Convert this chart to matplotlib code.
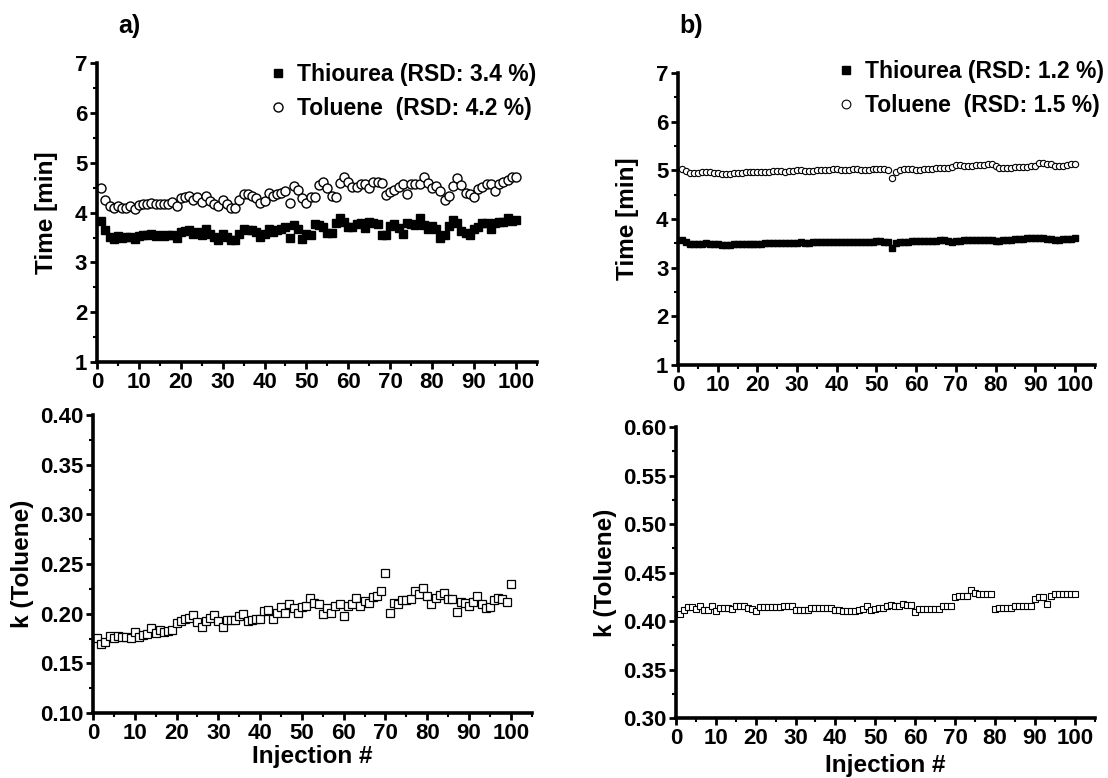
import numpy as np
import matplotlib
matplotlib.use('Agg')
import matplotlib.pyplot as plt
from matplotlib.ticker import MultipleLocator, FormatStrFormatter

plt.rcParams['font.family'] = ['Liberation Sans', 'DejaVu Sans']
plt.rcParams['font.weight'] = 'bold'

injection = np.arange(1, 101)

# a) retention times [min]
thiourea_a = [3.84, 3.65, 3.52, 3.48, 3.54, 3.50, 3.52, 3.52, 3.48, 3.53,
              3.55, 3.56, 3.57, 3.54, 3.55, 3.54, 3.55, 3.56, 3.50, 3.62,
              3.64, 3.65, 3.58, 3.62, 3.56, 3.68, 3.58, 3.52, 3.45, 3.58,
              3.52, 3.45, 3.45, 3.58, 3.68, 3.65, 3.65, 3.62, 3.52, 3.58,
              3.68, 3.62, 3.66, 3.68, 3.72, 3.50, 3.75, 3.68, 3.48, 3.58,
              3.56, 3.77, 3.75, 3.72, 3.60, 3.60, 3.80, 3.90, 3.82, 3.72,
              3.72, 3.77, 3.79, 3.70, 3.82, 3.79, 3.78, 3.56, 3.56, 3.73,
              3.77, 3.70, 3.58, 3.79, 3.77, 3.75, 3.89, 3.75, 3.68, 3.74,
              3.68, 3.50, 3.55, 3.74, 3.85, 3.80, 3.63, 3.60, 3.55, 3.68,
              3.72, 3.79, 3.79, 3.68, 3.79, 3.82, 3.82, 3.89, 3.83, 3.85]
toluene_a = [4.49, 4.26, 4.13, 4.09, 4.14, 4.10, 4.10, 4.14, 4.07, 4.15,
             4.17, 4.17, 4.19, 4.17, 4.17, 4.17, 4.17, 4.21, 4.13, 4.29,
             4.32, 4.34, 4.26, 4.31, 4.22, 4.34, 4.23, 4.17, 4.13, 4.26,
             4.17, 4.10, 4.10, 4.26, 4.37, 4.37, 4.34, 4.29, 4.19, 4.23,
             4.40, 4.34, 4.37, 4.39, 4.44, 4.20, 4.54, 4.45, 4.30, 4.20,
             4.32, 4.32, 4.56, 4.62, 4.49, 4.34, 4.32, 4.59, 4.71, 4.62,
             4.52, 4.52, 4.58, 4.58, 4.49, 4.62, 4.62, 4.60, 4.35, 4.41,
             4.46, 4.51, 4.58, 4.37, 4.58, 4.57, 4.57, 4.72, 4.60, 4.50,
             4.54, 4.44, 4.26, 4.34, 4.54, 4.69, 4.56, 4.39, 4.37, 4.31,
             4.47, 4.52, 4.57, 4.58, 4.44, 4.57, 4.62, 4.66, 4.71, 4.71]

# b) retention times [min]
thiourea_b = [3.56, 3.52, 3.49, 3.48, 3.48, 3.49, 3.50, 3.49, 3.48, 3.48,
              3.47, 3.47, 3.47, 3.48, 3.48, 3.48, 3.48, 3.49, 3.49, 3.49,
              3.49, 3.50, 3.50, 3.50, 3.50, 3.50, 3.51, 3.51, 3.51, 3.51,
              3.52, 3.51, 3.51, 3.52, 3.52, 3.52, 3.53, 3.53, 3.53, 3.53,
              3.52, 3.52, 3.53, 3.53, 3.52, 3.52, 3.53, 3.53, 3.53, 3.54,
              3.54, 3.53, 3.52, 3.40, 3.50, 3.52, 3.53, 3.53, 3.54, 3.54,
              3.54, 3.54, 3.55, 3.55, 3.55, 3.56, 3.56, 3.55, 3.53, 3.54,
              3.55, 3.56, 3.56, 3.57, 3.57, 3.56, 3.56, 3.56, 3.56, 3.55,
              3.55, 3.56, 3.57, 3.57, 3.58, 3.58, 3.59, 3.60, 3.61, 3.60,
              3.61, 3.60, 3.59, 3.58, 3.56, 3.57, 3.58, 3.58, 3.59, 3.60]
toluene_b = [5.02, 4.98, 4.95, 4.94, 4.94, 4.96, 4.97, 4.96, 4.95, 4.94,
             4.93, 4.93, 4.93, 4.94, 4.94, 4.95, 4.96, 4.96, 4.97, 4.97,
             4.97, 4.97, 4.97, 4.98, 4.98, 4.98, 4.97, 4.98, 4.99, 5.00,
             5.00, 4.99, 4.98, 4.99, 5.00, 5.00, 5.01, 5.01, 5.02, 5.02,
             5.01, 5.00, 5.01, 5.02, 5.02, 5.01, 5.00, 5.01, 5.02, 5.03,
             5.02, 5.02, 5.00, 4.85, 4.97, 5.01, 5.02, 5.03, 5.02, 5.01,
             5.01, 5.02, 5.03, 5.03, 5.04, 5.04, 5.05, 5.05, 5.06, 5.11,
             5.11, 5.10, 5.10, 5.10, 5.11, 5.12, 5.12, 5.13, 5.14, 5.08,
             5.05, 5.05, 5.05, 5.05, 5.06, 5.06, 5.06, 5.07, 5.08, 5.08,
             5.16, 5.15, 5.14, 5.13, 5.10, 5.09, 5.10, 5.11, 5.13, 5.14]

# capacity factor k (Toluene)
k_a = [0.1755, 0.170, 0.1715, 0.178, 0.1755, 0.1775, 0.1765, 0.1765, 0.1755, 0.1815,
       0.1765, 0.179, 0.180, 0.186, 0.1805, 0.184, 0.182, 0.1825, 0.184, 0.1905,
       0.193, 0.195, 0.1955, 0.199, 0.1915, 0.187, 0.193, 0.1955, 0.199, 0.193,
       0.187, 0.194, 0.194, 0.194, 0.1975, 0.200, 0.1925, 0.194, 0.195, 0.195,
       0.203, 0.204, 0.195, 0.2005, 0.2065, 0.2005, 0.210, 0.206, 0.201, 0.2065,
       0.208, 0.2155, 0.211, 0.2095, 0.200, 0.206, 0.201, 0.208, 0.210, 0.198,
       0.208, 0.210, 0.2155, 0.2075, 0.213, 0.211, 0.2165, 0.218, 0.223, 0.241,
       0.201, 0.211, 0.2095, 0.214, 0.2135, 0.215, 0.223, 0.220, 0.226, 0.2175,
       0.2095, 0.216, 0.2185, 0.221, 0.215, 0.215, 0.2015, 0.212, 0.211, 0.208,
       0.212, 0.218, 0.2095, 0.2055, 0.2065, 0.214, 0.216, 0.215, 0.212, 0.2295]
k_b = [0.407, 0.411, 0.414, 0.414, 0.412, 0.415, 0.411, 0.411, 0.415, 0.410,
       0.413, 0.413, 0.413, 0.412, 0.415, 0.415, 0.415, 0.413, 0.412, 0.410,
       0.414, 0.414, 0.414, 0.414, 0.414, 0.414, 0.415, 0.415, 0.415, 0.411,
       0.411, 0.411, 0.411, 0.413, 0.413, 0.413, 0.413, 0.413, 0.413, 0.411,
       0.411, 0.410, 0.410, 0.410, 0.410, 0.411, 0.412, 0.416, 0.411, 0.412,
       0.413, 0.413, 0.415, 0.417, 0.415, 0.415, 0.418, 0.417, 0.417, 0.409,
       0.412, 0.412, 0.412, 0.412, 0.412, 0.412, 0.415, 0.415, 0.415, 0.425,
       0.426, 0.426, 0.426, 0.432, 0.429, 0.428, 0.428, 0.428, 0.428, 0.412,
       0.413, 0.413, 0.413, 0.413, 0.415, 0.415, 0.415, 0.415, 0.416, 0.423,
       0.425, 0.425, 0.418, 0.426, 0.428, 0.428, 0.428, 0.428, 0.428, 0.428]

rsd_a = ['3.4', '4.2']
rsd_b = ['1.2', '1.5']


def style_axes(ax, ylim, ymajor, fmt):
    for s in ['top', 'right']:
        ax.spines[s].set_visible(False)
    for s in ['left', 'bottom']:
        ax.spines[s].set_linewidth(2.6)
    ax.set_xlim(0, 105)
    ax.set_ylim(*ylim)
    ax.xaxis.set_major_locator(MultipleLocator(10))
    ax.xaxis.set_minor_locator(MultipleLocator(5))
    ax.yaxis.set_major_locator(MultipleLocator(ymajor))
    ax.yaxis.set_minor_locator(MultipleLocator(ymajor / 2))
    ax.yaxis.set_major_formatter(FormatStrFormatter(fmt))
    ax.set_xticks([t for t in range(0, 101, 10)])
    ax.tick_params(which='major', direction='out', length=5, width=2, labelsize=16, pad=2)
    ax.tick_params(which='minor', direction='out', length=3, width=1.5)
    for lab in ax.get_xticklabels() + ax.get_yticklabels():
        lab.set_fontweight('bold')


fig = plt.figure(figsize=(11.08, 7.78), dpi=100)

leg_kw = dict(loc='upper right', frameon=False, fontsize=16.5, handletextpad=0.35,
              handlelength=1.0, labelspacing=0.45, borderaxespad=0)

# a) top
ax1 = fig.add_axes([0.0875, 0.5347, 0.397, 0.384])
ax1.plot(injection, thiourea_a, 's', color='black', markersize=6, linestyle='none',
         label=f'Thiourea (RSD: {rsd_a[0]} %)')
ax1.plot(injection, toluene_a, 'o', mfc='white', mec='black', mew=1.0, markersize=6.5,
         linestyle='none', label=f'Toluene  (RSD: {rsd_a[1]} %)')
style_axes(ax1, (1, 7), 1, '%d')
ax1.set_ylabel('Time [min]', fontsize=17.5, fontweight='bold', labelpad=12)
ax1.legend(bbox_to_anchor=(1.02, 1.03), **leg_kw)
fig.text(0.107, 0.967, 'a)', fontsize=18, fontweight='bold', ha='left', va='center')

# b) top
ax2 = fig.add_axes([0.612, 0.531, 0.376, 0.375])
ax2.plot(injection, thiourea_b, 's', color='black', markersize=4.5, linestyle='none',
         label=f'Thiourea (RSD: {rsd_b[0]} %)')
ax2.plot(injection, toluene_b, 'o', mfc='white', mec='black', mew=0.8, markersize=4.5,
         linestyle='none', label=f'Toluene  (RSD: {rsd_b[1]} %)')
style_axes(ax2, (1, 7), 1, '%d')
ax2.set_ylabel('Time [min]', fontsize=17.5, fontweight='bold', labelpad=12)
ax2.legend(bbox_to_anchor=(1.045, 1.075), markerscale=1.4, **leg_kw)
fig.text(0.613, 0.967, 'b)', fontsize=18, fontweight='bold', ha='left', va='center')

# a) bottom
ax3 = fig.add_axes([0.0839, 0.0835, 0.396, 0.383])
ax3.plot(injection, k_a, 's', mfc='white', mec='black', mew=0.9, markersize=5.5,
         linestyle='none')
style_axes(ax3, (0.10, 0.40), 0.05, '%.2f')
ax3.set_ylabel('k (Toluene)', fontsize=17.5, fontweight='bold', labelpad=4)
ax3.set_xlabel('Injection #', fontsize=17.5, fontweight='bold', labelpad=1)

# b) bottom
ax4 = fig.add_axes([0.610, 0.0771, 0.378, 0.374])
ax4.plot(injection, k_b, 's', mfc='white', mec='black', mew=0.8, markersize=4.8,
         linestyle='none')
style_axes(ax4, (0.30, 0.60), 0.05, '%.2f')
ax4.set_ylabel('k (Toluene)', fontsize=17.5, fontweight='bold', labelpad=4)
ax4.set_xlabel('Injection #', fontsize=17.5, fontweight='bold', labelpad=4)

fig.savefig('out.png', dpi=100)
